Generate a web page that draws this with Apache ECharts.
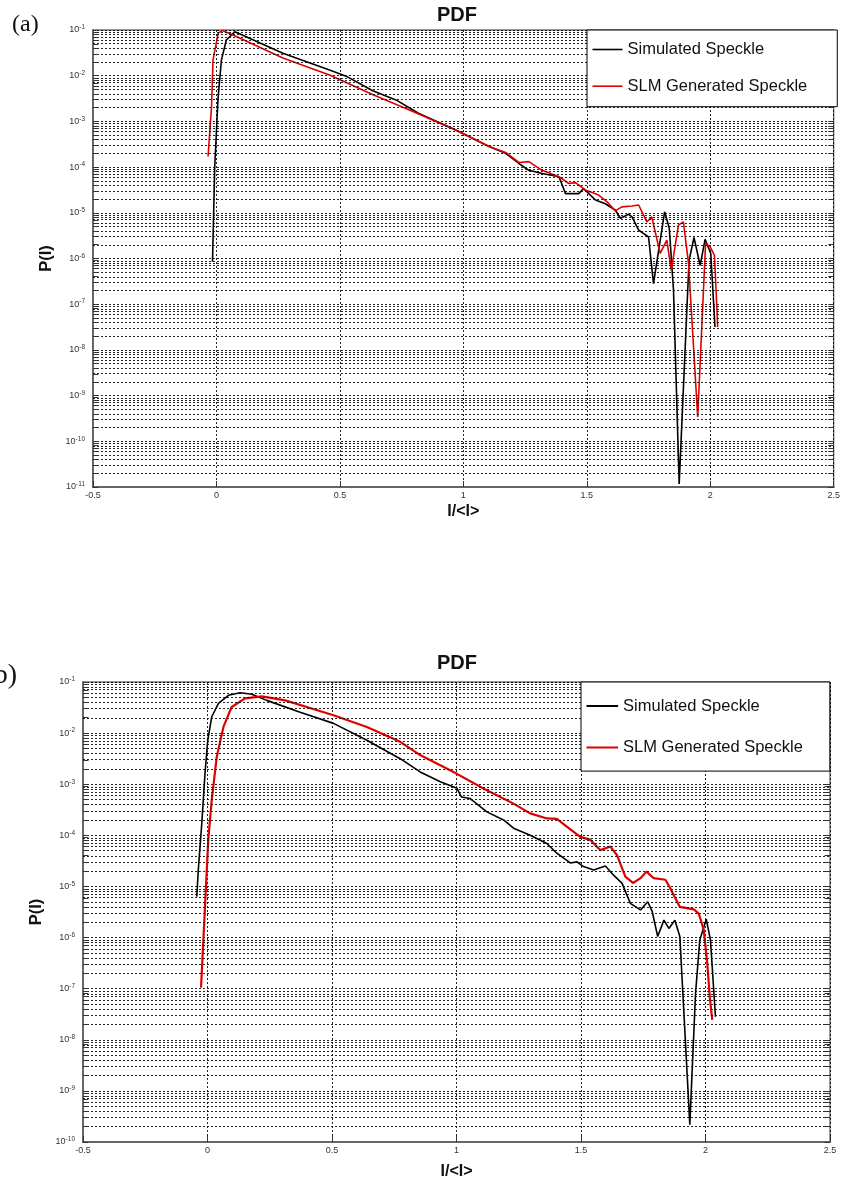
<!DOCTYPE html>
<html>
<head>
<meta charset="utf-8">
<script src="https://cdn.jsdelivr.net/npm/echarts@6/dist/echarts.min.js"></script>
<style>
  html, body { margin: 0; padding: 0; background: #fff; }
  #chart { width: 843px; height: 1182px; }
</style>
</head>
<body>
<div id="chart"></div>
<script>
// ---- Panel (a): intensity PDF, I/<I> vs P(I) ----
const aSimX = [-0.016, -0.007, 0.006, 0.020, 0.040, 0.074, 0.10, 0.269, 0.458, 0.525,
  0.633, 0.727, 0.818, 0.969, 1.0, 1.104, 1.171, 1.225, 1.265, 1.319,
  1.387, 1.414, 1.467, 1.487, 1.535, 1.575, 1.615, 1.636, 1.669, 1.683,
  1.710, 1.750, 1.770, 1.815, 1.834, 1.851, 1.874, 1.914, 1.934, 1.959,
  1.979, 2.002, 2.019];
const aSimP = [8.5e-7, 1.02e-4, 2.95e-3, 2.19e-2, 6.03e-2, 9.12e-2, 7.94e-2, 3.09e-2, 1.33e-2, 9.77e-3,
  4.68e-3, 2.95e-3, 1.51e-3, 6.46e-4, 5.37e-4, 2.82e-4, 2.0e-4, 1.20e-4, 8.51e-5, 7.24e-5,
  6.17e-5, 2.63e-5, 2.63e-5, 3.39e-5, 1.91e-5, 1.58e-5, 1.15e-5, 7.59e-6, 9.33e-6, 8.13e-6,
  4.17e-6, 2.95e-6, 2.82e-7, 1.05e-5, 4.57e-6, 2.04e-7, 1.17e-11, 9.12e-7, 2.88e-6, 7.08e-7,
  2.63e-6, 1.29e-6, 3.16e-8];

const aSlmX = [-0.034, -0.020, -0.014, 0.007, 0.024, 0.067, 0.269, 0.458, 0.632, 0.767,
  0.969, 1.104, 1.171, 1.225, 1.265, 1.319, 1.387, 1.427, 1.454, 1.494,
  1.548, 1.582, 1.615, 1.642, 1.683, 1.710, 1.743, 1.763, 1.797, 1.824,
  1.842, 1.871, 1.891, 1.912, 1.949, 1.981, 1.999, 2.017, 2.030];
const aSlmP = [1.70e-4, 2.09e-3, 2.19e-2, 8.51e-2, 9.77e-2, 7.76e-2, 2.45e-2, 1.04e-2, 3.89e-3, 1.91e-3,
  6.46e-4, 2.82e-4, 2.09e-4, 1.26e-4, 1.32e-4, 8.51e-5, 6.17e-5, 4.37e-5, 4.57e-5, 3.16e-5,
  2.45e-5, 1.74e-5, 1.10e-5, 1.35e-5, 1.41e-5, 1.48e-5, 6.31e-6, 8.13e-6, 1.29e-6, 2.51e-6,
  5.50e-7, 5.37e-6, 6.31e-6, 7.76e-7, 3.39e-10, 2.14e-6, 1.82e-6, 1.17e-6, 3.16e-8];

// ---- Panel (b) ----
const bSimX = [-0.043, -0.037, -0.023, -0.010, 0.001, 0.017, 0.044, 0.084, 0.131, 0.178,
  0.238, 0.372, 0.506, 0.640, 0.774, 0.854, 0.935, 1.002, 1.020, 1.055,
  1.122, 1.189, 1.229, 1.296, 1.363, 1.403, 1.457, 1.484, 1.510, 1.551,
  1.598, 1.631, 1.665, 1.698, 1.739, 1.768, 1.786, 1.808, 1.833, 1.853,
  1.877, 1.897, 1.937, 1.960, 1.977, 2.003, 2.020, 2.040];
const bSimP = [6.31e-6, 2.09e-5, 1.70e-4, 1.62e-3, 7.24e-3, 2.09e-2, 3.80e-2, 5.50e-2, 6.17e-2, 5.75e-2,
  4.37e-2, 2.57e-2, 1.55e-2, 7.24e-3, 3.16e-3, 1.74e-3, 1.12e-3, 8.32e-4, 5.62e-4, 5.25e-4,
  2.88e-4, 2.00e-4, 1.38e-4, 1.00e-4, 6.92e-5, 4.47e-5, 2.88e-5, 3.02e-5, 2.45e-5, 2.09e-5,
  2.51e-5, 1.66e-5, 1.15e-5, 4.68e-6, 3.47e-6, 5.01e-6, 3.24e-6, 1.05e-6, 2.19e-6, 1.51e-6,
  2.19e-6, 1.05e-6, 2.19e-10, 8.13e-8, 8.91e-7, 2.29e-6, 8.91e-7, 2.82e-8];

const bSlmX = [-0.026, -0.010, 0.003, 0.017, 0.037, 0.064, 0.097, 0.151, 0.218, 0.312,
  0.506, 0.640, 0.774, 0.854, 0.988, 1.122, 1.229, 1.296, 1.363, 1.403,
  1.443, 1.497, 1.538, 1.578, 1.618, 1.645, 1.678, 1.709, 1.739, 1.763,
  1.792, 1.839, 1.859, 1.897, 1.953, 1.973, 1.993, 2.007, 2.017, 2.027];
const bSlmP = [1.05e-7, 3.98e-6, 8.13e-5, 4.90e-4, 3.39e-3, 1.32e-2, 3.24e-2, 4.79e-2, 5.25e-2, 4.37e-2,
  2.24e-2, 1.32e-2, 6.76e-3, 3.72e-3, 1.74e-3, 7.59e-4, 4.17e-4, 2.69e-4, 2.14e-4, 2.09e-4,
  1.48e-4, 9.33e-5, 8.13e-5, 5.13e-5, 6.03e-5, 4.07e-5, 1.55e-5, 1.17e-5, 1.45e-5, 1.95e-5,
  1.45e-5, 1.35e-5, 9.12e-6, 3.98e-6, 3.55e-6, 2.95e-6, 1.41e-6, 3.16e-7, 7.08e-8, 2.45e-8];

const seriesNames = ['Simulated Speckle', 'SLM Generated Speckle'];
const xTicks = [-0.5, 0, 0.5, 1, 1.5, 2, 2.5];
const aDecadeRange = [-11, -1];   // y axis: 10^-11 .. 10^-1
const bDecadeRange = [-10, -1];   // y axis: 10^-10 .. 10^-1

const FONT = 'Liberation Sans, Arial, sans-serif';
const SERIF = 'Liberation Serif, Times New Roman, serif';

const zip = (xs, ys) => xs.map((x, i) => [x, ys[i]]);

// exponents of the 2..9 x 10^k lines inside each decade
function minorExponents(range) {
  const out = [];
  for (let k = range[0]; k < range[1]; k++) {
    for (let m = 2; m <= 9; m++) out.push(k + Math.log10(m));
  }
  return out;
}
function decadeExponents(range) {
  const out = [];
  for (let k = range[0]; k <= range[1]; k++) out.push(k);
  return out;
}

const gridLine = { color: '#000', width: 1, type: [2, 2], opacity: 0.85 };
const tickLen = 0.022;   // inner tick length, in x units

function xAxisFor(gridIndex, nameGap) {
  return {
    type: 'value', gridIndex,
    min: xTicks[0], max: xTicks[xTicks.length - 1], interval: 0.5,
    name: 'I/<I>', nameLocation: 'middle', nameGap,
    nameTextStyle: { fontFamily: FONT, fontWeight: 'bold', fontSize: 16, color: '#111' },
    axisLine: { show: true, onZero: false, lineStyle: { color: '#666', width: 2 } },
    axisTick: { show: true, inside: true, length: 6, lineStyle: { color: '#333' } },
    axisLabel: { fontFamily: FONT, fontSize: 9, color: '#333', margin: 4, showMinLabel: true, showMaxLabel: true },
    splitLine: { show: true, lineStyle: gridLine }
  };
}

function yAxisFor(gridIndex, range, nameGap) {
  return {
    type: 'log', logBase: 10, gridIndex,
    min: Math.pow(10, range[0]), max: Math.pow(10, range[1]),
    interval: 1, splitNumber: range[1] - range[0],
    name: 'P(I)', nameLocation: 'middle', nameGap,
    nameTextStyle: { fontFamily: FONT, fontWeight: 'bold', fontSize: 16.5, color: '#111' },
    axisLine: { show: true, onZero: false, lineStyle: { color: '#666', width: 2 } },
    axisTick: { show: false },
    axisLabel: {
      margin: 8, showMinLabel: true, showMaxLabel: true,
      formatter: v => '{b|10}{s|' + Math.round(Math.log10(v)) + '}',
      rich: {
        b: { fontFamily: FONT, fontSize: 9, color: '#333' },
        s: { fontFamily: FONT, fontSize: 6.5, color: '#333', padding: [0, 0, 5, 0] }
      }
    },
    splitLine: { show: true, lineStyle: gridLine }
  };
}

// hidden linear axis in exponent units, used to place the in-decade grid and ticks
function exponentAxisFor(gridIndex, range) {
  return { type: 'value', gridIndex, min: range[0], max: range[1], show: false, splitLine: { show: false } };
}

function decadeDecorations(xIdx, yIdx, range) {
  const x0 = xTicks[0], x1 = xTicks[xTicks.length - 1];
  const lines = minorExponents(range).map(e => ({ yAxis: e }));
  const ticks = [];
  minorExponents(range).concat(decadeExponents(range)).forEach(e => {
    ticks.push([{ coord: [x0, e] }, { coord: [x0 + tickLen, e] }]);
    ticks.push([{ coord: [x1 - tickLen, e] }, { coord: [x1, e] }]);
  });
  return [
    {
      type: 'line', xAxisIndex: xIdx, yAxisIndex: yIdx, data: [], z: 1, silent: true,
      markLine: { silent: true, symbol: 'none', animation: false, label: { show: false }, lineStyle: gridLine, data: lines }
    },
    {
      type: 'line', xAxisIndex: xIdx, yAxisIndex: yIdx, data: [], z: 2, silent: true,
      markLine: { silent: true, symbol: 'none', animation: false, label: { show: false },
        lineStyle: { color: '#333', width: 1, type: 'solid' }, data: ticks }
    }
  ];
}

function curve(idx, name, xs, ys, color, width) {
  return {
    type: 'line', name, xAxisIndex: idx, yAxisIndex: idx,
    data: zip(xs, ys), showSymbol: false, symbol: 'none', z: 3,
    clip: true,
    lineStyle: { color, width }, itemStyle: { color }
  };
}

function legendFor(left, top, padding, itemGap, itemWidth, lineWidth) {
  return {
    orient: 'vertical', left, top, padding, itemGap, itemWidth, itemHeight: lineWidth,
    icon: 'rect',
    data: seriesNames, selectedMode: false,
    backgroundColor: '#fff', borderColor: '#000', borderWidth: 1, borderRadius: 0,
    textStyle: { fontFamily: FONT, fontSize: 16.5, color: '#111', lineHeight: 17 },
    z: 10
  };
}

const chart = echarts.init(document.getElementById('chart'), null, { renderer: 'canvas' });
chart.setOption({
  animation: false,
  backgroundColor: '#fff',
  grid: [
    { left: 93, top: 30, width: 743, height: 457, show: true, borderColor: '#333', borderWidth: 1, backgroundColor: 'transparent' },
    { left: 83, top: 682, width: 747, height: 460, show: true, borderColor: '#333', borderWidth: 1, backgroundColor: 'transparent' }
  ],
  xAxis: [xAxisFor(0, 17), xAxisFor(1, 22)],
  yAxis: [
    yAxisFor(0, aDecadeRange, 24), yAxisFor(1, bDecadeRange, 24),
    exponentAxisFor(0, aDecadeRange), exponentAxisFor(1, bDecadeRange)
  ],
  legend: [
    legendFor(587, 30, [11, 30, 12, 5.5], 19.7, 30, 1.6),
    legendFor(581, 682, [15.5, 27, 15, 5.5], 24.6, 31.6, 2)
  ],
  graphic: [
    { type: 'text', x: 457, y: 15, style: { text: 'PDF', fontFamily: FONT, fontWeight: 'bold', fontSize: 20, fill: '#111', textAlign: 'center', textVerticalAlign: 'middle' } },
    { type: 'text', x: 457, y: 663, style: { text: 'PDF', fontFamily: FONT, fontWeight: 'bold', fontSize: 20, fill: '#111', textAlign: 'center', textVerticalAlign: 'middle' } },
    { type: 'text', x: 12, y: 25, style: { text: '(a)', fontFamily: SERIF, fontSize: 24, fill: '#111', textAlign: 'left', textVerticalAlign: 'middle' } },
    { type: 'text', x: 17, y: 676, style: { text: '(b)', fontFamily: SERIF, fontSize: 28, fill: '#111', textAlign: 'right', textVerticalAlign: 'middle' } }
  ],
  series: [
    ...decadeDecorations(0, 2, aDecadeRange),
    ...decadeDecorations(1, 3, bDecadeRange),
    curve(0, seriesNames[0], aSimX, aSimP, '#000', 1.6),
    curve(0, seriesNames[1], aSlmX, aSlmP, '#e00000', 1.6),
    curve(1, seriesNames[0], bSimX, bSimP, '#000', 1.6),
    curve(1, seriesNames[1], bSlmX, bSlmP, '#e00000', 2.2)
  ]
});
</script>
</body>
</html>
